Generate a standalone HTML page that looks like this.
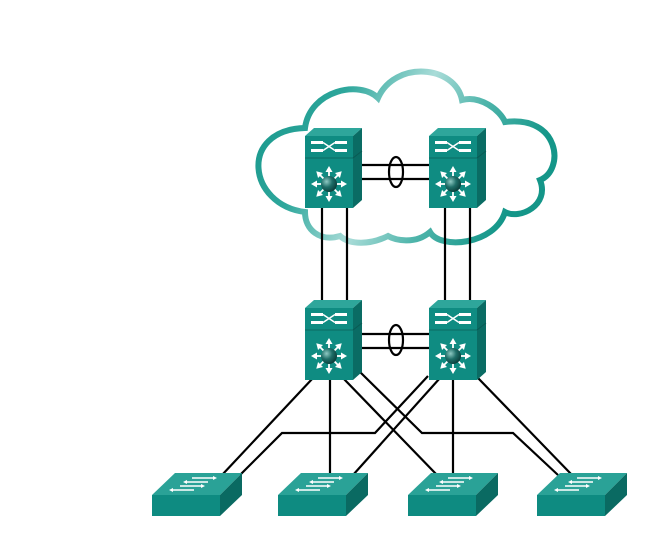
<!DOCTYPE html>
<html><head><meta charset="utf-8"><style>html,body{margin:0;padding:0;background:#fff}svg{display:block}</style></head>
<body>
<svg width="653" height="556" viewBox="0 0 653 556" xmlns="http://www.w3.org/2000/svg">
<defs>
<linearGradient id="cg" x1="0" y1="0" x2="1" y2="0.3">
<stop offset="0" stop-color="#139488"/><stop offset="0.3" stop-color="#2ea79c"/><stop offset="0.55" stop-color="#a9dcd8"/><stop offset="0.75" stop-color="#4fb5ab"/><stop offset="1" stop-color="#149689"/>
</linearGradient>
<radialGradient id="sph" cx="0.35" cy="0.35" r="0.7"><stop offset="0" stop-color="#8fc9c3"/><stop offset="0.5" stop-color="#1f6e68"/><stop offset="1" stop-color="#0a3d3a"/></radialGradient>
<g id="arr"><line x1="0" y1="-5" x2="0" y2="-14" stroke="#fff" stroke-width="1.8"/><polygon points="0,-18 -3.5,-12 3.5,-12" fill="#fff"/></g>
<g id="ml">
<polygon points="0,8 9,0 57,0 48,8" fill="#2ea69b"/>
<rect x="0" y="8" width="48" height="72" fill="#0f8c82"/>
<polygon points="48,8 57,0 57,72 48,80" fill="#0a6c64"/>
<line x1="0" y1="30" x2="48" y2="30" stroke="#0b6a62" stroke-width="1"/>
<line x1="48" y1="30" x2="57" y2="23" stroke="#0a5a54" stroke-width="1"/>
<g fill="#fff"><rect x="6" y="13" width="12" height="3"/><rect x="30" y="13" width="12" height="3"/><rect x="6" y="21" width="12" height="3"/><rect x="30" y="21" width="12" height="3"/></g>
<path d="M18,14.5 L30,22.5 M18,22.5 L30,14.5" stroke="#fff" stroke-width="1.5"/>
<g transform="translate(24,56)">
<use href="#arr"/><use href="#arr" transform="rotate(45)"/><use href="#arr" transform="rotate(90)"/><use href="#arr" transform="rotate(135)"/><use href="#arr" transform="rotate(180)"/><use href="#arr" transform="rotate(225)"/><use href="#arr" transform="rotate(270)"/><use href="#arr" transform="rotate(315)"/>
<circle r="8" fill="url(#sph)"/></g>
</g>
<g id="as">
<polygon points="0,22 23,0 90,0 68,22" fill="#2aa297"/>
<rect x="0" y="22" width="68" height="21" fill="#0e8b81"/>
<polygon points="68,22 90,0 90,22 68,43" fill="#0a6a62"/>
<g stroke="#fff" stroke-width="1.5" fill="#fff">
<line x1="40" y1="5" x2="62" y2="5"/><polygon points="65,5 61,3 61,7" stroke="none"/>
<line x1="34" y1="9" x2="56" y2="9"/><polygon points="31,9 35,7 35,11" stroke="none"/>
<line x1="28" y1="13" x2="50" y2="13"/><polygon points="53,13 49,11 49,15" stroke="none"/>
<line x1="20" y1="17" x2="42" y2="17"/><polygon points="17,17 21,15 21,19" stroke="none"/>
</g>
</g>
</defs>
<path d="M305 212 C248 205,238 130,305 128 C310 90,360 80,378 98 C395 60,455 65,462 100 C480 95,500 110,505 122 C560 115,565 170,540 180 C550 205,520 220,505 212 C495 245,440 250,430 232 C415 245,395 240,388 236 C370 245,350 245,340 236 C320 242,305 230,305 212 Z" fill="none" stroke="url(#cg)" stroke-width="6"/>
<g stroke="#000" stroke-width="2.2" fill="none">
<line x1="353" y1="165" x2="429" y2="165"/><line x1="353" y1="179" x2="429" y2="179"/>
<ellipse cx="396" cy="172" rx="7" ry="15"/>
<line x1="353" y1="334" x2="429" y2="334"/><line x1="353" y1="348" x2="429" y2="348"/>
<ellipse cx="396" cy="340" rx="7" ry="15"/>
<line x1="322" y1="205" x2="322" y2="302"/><line x1="347" y1="205" x2="347" y2="302"/>
<line x1="445" y1="205" x2="445" y2="302"/><line x1="470" y1="205" x2="470" y2="302"/>
<line x1="313" y1="378" x2="222" y2="475"/>
<line x1="330" y1="378" x2="330" y2="475"/>
<line x1="343" y1="378" x2="437" y2="475"/>
<polyline points="360,372 422,433 513,433 558,475"/>
<polyline points="428,376 375,433 282,433 240,475"/>
<line x1="440" y1="378" x2="353" y2="475"/>
<line x1="453" y1="378" x2="453" y2="475"/>
<line x1="478" y1="378" x2="572" y2="475"/>
</g>
<use href="#ml" x="305" y="128"/>
<use href="#ml" x="429" y="128"/>
<use href="#ml" x="305" y="300"/>
<use href="#ml" x="429" y="300"/>
<use href="#as" x="152" y="473"/>
<use href="#as" x="278" y="473"/>
<use href="#as" x="408" y="473"/>
<use href="#as" x="537" y="473"/>
</svg>
</body></html>
